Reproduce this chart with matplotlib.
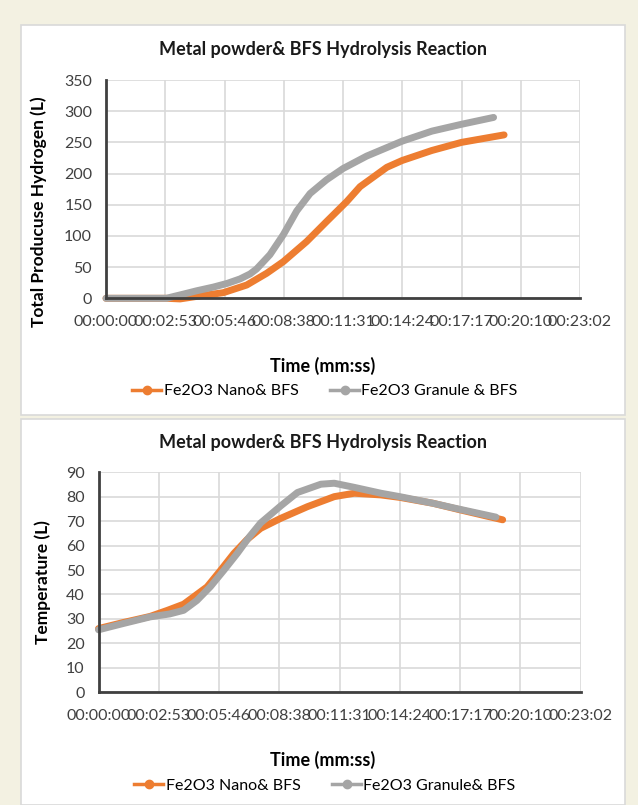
import matplotlib.pyplot as plt
from matplotlib.patches import Rectangle
from matplotlib.lines import Line2D

plt.rcParams['font.family'] = ['Lato', 'DejaVu Sans']

# time in minutes
h2_nano_t = [0, 2.94, 3.6, 4.6, 5.7, 6.84, 7.81, 8.62, 9.75, 10.72, 11.7, 12.35, 13.65, 14.4, 15.84, 17.28, 19.35]
h2_nano = [0, 0, -1, 4, 9, 21.3, 40.1, 58.8, 90.9, 123, 155, 179, 210, 221, 237, 250, 262]
h2_gran_t = [0, 2.94, 3.3, 3.8, 4.4, 5.22, 5.9, 6.51, 7.0, 7.32, 7.97, 8.62, 9.27, 9.92, 10.72, 11.52, 12.67, 14.4, 15.84, 17.28, 18.84]
h2_gran = [0, 0, 3, 7, 12, 18, 24, 31, 39, 47, 70, 102, 140, 168, 190, 208, 228, 252, 268, 279, 290]

temp_nano_t = [0, 1.19, 2.47, 3.3, 4.07, 5.19, 5.8, 6.47, 7.1, 7.75, 8.71, 9.99, 11.27, 12.23, 13.5, 14.4, 15.98, 17.28, 19.32]
temp_nano = [26, 28.5, 31, 33.5, 36, 43.1, 49.5, 56.8, 62.5, 67.1, 71.2, 76.0, 80.1, 81.5, 80.8, 79.8, 77.4, 74.7, 70.6]
temp_gran_t = [0, 1.19, 2.47, 3.4, 4.07, 4.7, 5.35, 6.0, 6.63, 7.2, 7.75, 8.71, 9.51, 10.63, 11.27, 12.23, 13.5, 14.4, 15.98, 17.28, 19.0]
temp_gran = [25.5, 28.1, 30.8, 32.0, 33.5, 37.5, 43.2, 50, 56.8, 63.5, 69.3, 76.3, 81.8, 85.2, 85.6, 83.9, 81.5, 80.1, 77.4, 74.9, 71.7]

x_ticks = [0, 2.88, 5.76, 8.64, 11.52, 14.4, 17.28, 20.16, 23.04]
x_labels = ['00:00:00', '00:02:53', '00:05:46', '00:08:38', '00:11:31',
            '00:14:24', '00:17:17', '00:20:10', '00:23:02']

ORANGE = '#ED7D31'
GRAY = '#A5A5A5'
W, H = 638, 805

fig = plt.figure(figsize=(6.38, 8.05), dpi=100)
fig.patch.set_facecolor('#F3F1E2')

# white chart panels
for (x0, y0, x1, y1) in [(21, 25, 625, 415), (21, 419, 625, 805)]:
    fig.patches.append(Rectangle((x0 / W, 1 - y1 / H), (x1 - x0) / W, (y1 - y0) / H,
                                 transform=fig.transFigure, facecolor='white',
                                 edgecolor='#D9D9D9', linewidth=1.2, zorder=-5))


def style(ax, ymax, ystep):
    ax.set_xlim(0, 23.04)
    ax.set_ylim(0, ymax)
    ax.set_xticks(x_ticks)
    ax.set_xticklabels(x_labels, fontsize=11.5, color='#404040')
    ax.set_yticks(range(0, ymax + 1, ystep))
    ax.tick_params(axis='y', labelsize=11.5, labelcolor='#404040', length=0, pad=10)
    ax.tick_params(axis='x', length=0, pad=12)
    ax.grid(True, color='#D9D9D9', linewidth=1.2)
    ax.set_axisbelow(True)
    ax.set_facecolor('none')
    for s in ['top', 'right']:
        ax.spines[s].set_visible(False)
    for s in ['left', 'bottom']:
        ax.spines[s].set_color('#404040')
        ax.spines[s].set_linewidth(2)


lw = 5
kw = dict(lw=lw, solid_capstyle='round', solid_joinstyle='round', clip_on=False)

ax1 = fig.add_axes([106 / W, 1 - 298.3 / H, 474 / W, 218.3 / H])
ax1.plot(h2_nano_t, h2_nano, color=ORANGE, **kw)
ax1.plot(h2_gran_t, h2_gran, color=GRAY, **kw)
style(ax1, 350, 50)
ax1.set_ylabel('Total Producuse Hydrogen (L)', fontsize=12.5, fontweight='bold')
ax1.yaxis.set_label_coords(-0.1245, 0.395)

ax2 = fig.add_axes([98.5 / W, 1 - 692 / H, 482 / W, 219.5 / H])
ax2.plot(temp_nano_t, temp_nano, color=ORANGE, **kw)
ax2.plot(temp_gran_t, temp_gran, color=GRAY, **kw)
style(ax2, 90, 10)
ax2.set_ylabel('Temperature (L)', fontsize=12.5, fontweight='bold')
ax2.yaxis.set_label_coords(-0.0985, 0.5)

title = 'Metal powder& BFS Hydrolysis Reaction'
fig.text(323 / W, 1 - 49 / H, title, ha='center', va='center', fontsize=13, fontweight='bold', color='#1a1a1a')
fig.text(323 / W, 1 - 442 / H, title, ha='center', va='center', fontsize=13, fontweight='bold', color='#1a1a1a')
fig.text(323 / W, 1 - 366 / H, 'Time (mm:ss)', ha='center', va='center', fontsize=13, fontweight='bold')
fig.text(323 / W, 1 - 760 / H, 'Time (mm:ss)', ha='center', va='center', fontsize=13, fontweight='bold')


def legend(y, names):
    handles = [Line2D([], [], color=ORANGE, lw=2.5, marker='o', markersize=6),
               Line2D([], [], color=GRAY, lw=2.5, marker='o', markersize=6)]
    fig.legend(handles, names, loc='center', bbox_to_anchor=(325 / W, 1 - y / H), ncol=2,
               frameon=False, fontsize=11.5, handlelength=1.8, handletextpad=0.15, columnspacing=2.0)


legend(391, ['Fe2O3 Nano& BFS', 'Fe2O3 Granule & BFS'])
legend(786, ['Fe2O3 Nano& BFS', 'Fe2O3 Granule& BFS'])

fig.savefig('out.png', dpi=100, facecolor=fig.get_facecolor())
